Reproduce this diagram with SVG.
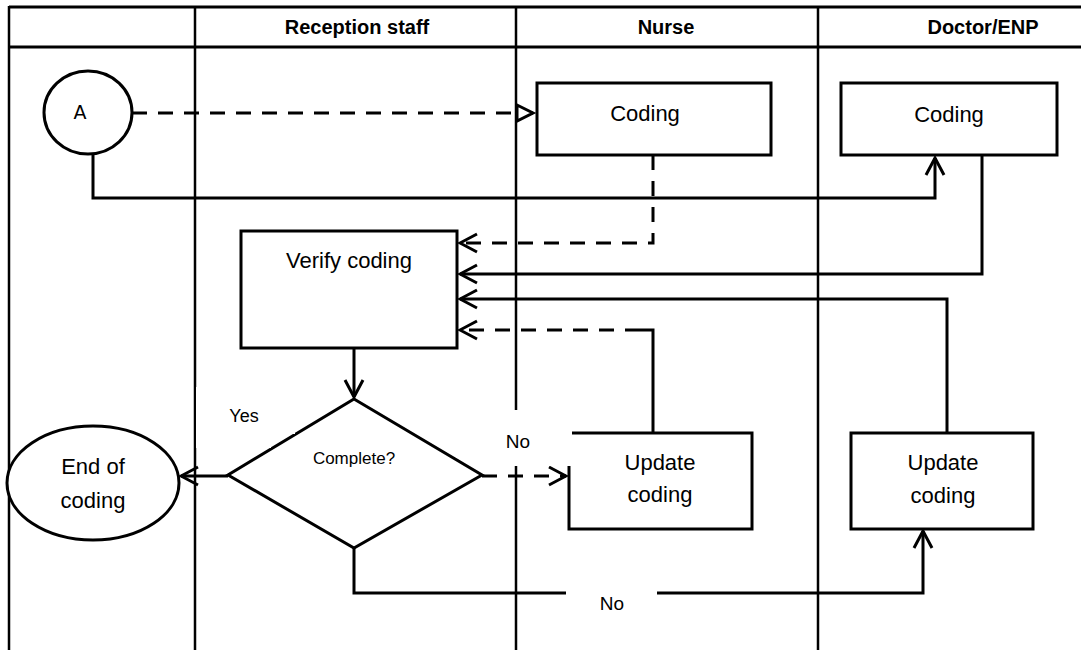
<svg xmlns="http://www.w3.org/2000/svg" width="1081" height="650" viewBox="0 0 1081 650">
<style>
.lane{stroke:#000;stroke-width:2.5;fill:none}
.hdr{font-family:"Liberation Sans",Arial,sans-serif;font-weight:bold;font-size:20px;fill:#000;text-anchor:middle}
.box{fill:#fff;stroke:#000;stroke-width:3}
.t{font-family:"Liberation Sans",Arial,sans-serif;font-size:22px;fill:#000;text-anchor:middle}
.s{font-family:"Liberation Sans",Arial,sans-serif;font-size:18px;fill:#000;text-anchor:middle}
.c{fill:none;stroke:#000;stroke-width:3}
.d{stroke-dasharray:15 11}
.lbl{fill:#fff;stroke:none}
</style>
<defs>
<marker id="ah" markerUnits="userSpaceOnUse" markerWidth="22" markerHeight="24" viewBox="-19 -12 22 24" refX="0" refY="0" orient="auto">
<path d="M-17,-9 L0,0 L-17,9" fill="none" stroke="#000" stroke-width="3"/>
</marker>
<marker id="tri" markerUnits="userSpaceOnUse" markerWidth="24" markerHeight="24" viewBox="-20 -12 24 24" refX="0" refY="0" orient="auto">
<path d="M-16,-8 L0,0 L-16,8 Z" fill="#fff" stroke="#000" stroke-width="3" stroke-linejoin="miter"/>
</marker>
</defs>
<g id="lanes">
<line class="lane" x1="9" y1="7" x2="1081" y2="7" style="stroke-width:3"/>
<line class="lane" x1="9" y1="47" x2="1081" y2="47" style="stroke-width:3"/>
<line class="lane" x1="9" y1="6" x2="9" y2="650"/>
<line class="lane" x1="195" y1="6" x2="195" y2="650"/>
<line class="lane" x1="516" y1="6" x2="516" y2="650"/>
<line class="lane" x1="818" y1="6" x2="818" y2="650"/>
<text class="hdr" x="357" y="34">Reception staff</text>
<text class="hdr" x="666" y="34">Nurse</text>
<text class="hdr" x="983" y="34">Doctor/ENP</text>
</g>
<g id="connectors">
<path class="c d" d="M132,113 H533" marker-end="url(#tri)"/>
<path class="c" d="M93,154 V198 H935 V158" marker-end="url(#ah)"/>
<path class="c d" d="M653,155 V243 H460" marker-end="url(#ah)"/>
<path class="c" d="M982,155 V274 H460" marker-end="url(#ah)"/>
<path class="c" d="M947,433 V299 H460" marker-end="url(#ah)"/>
<path class="c" d="M653,433 V330 H640"/>
<path class="c d" d="M640,330 H460" marker-end="url(#ah)"/>
<path class="c" d="M354,348 V397" marker-end="url(#ah)"/>
<path class="c" d="M228,476 H181" marker-end="url(#ah)"/>
<path class="c d" d="M482,476 H566" marker-end="url(#ah)"/>
<path class="c" d="M354,548 V593 H923 V531" marker-end="url(#ah)"/>
</g>
<g id="node-a">
<ellipse class="box" cx="88" cy="112.5" rx="44" ry="41.5"/>
<text x="80" y="119" style="font-family:'DejaVu Sans',sans-serif;font-size:19px;text-anchor:middle">A</text>
</g>
<g id="node-nurse-coding">
<rect class="box" x="537" y="83" width="234" height="72"/>
<text class="t" x="645" y="121">Coding</text>
</g>
<g id="node-doctor-coding">
<rect class="box" x="841" y="83" width="216" height="72"/>
<text class="t" x="949" y="122">Coding</text>
</g>
<g id="node-verify">
<rect class="box" x="241" y="231" width="216" height="117"/>
<text class="t" x="349" y="268">Verify coding</text>
</g>
<g id="node-complete">
<polygon class="box" points="354,399 482,475 354,548 228,475"/>
<text class="s" x="354" y="464" style="font-size:17px">Complete?</text>
</g>
<g id="node-end">
<ellipse class="box" cx="93" cy="483" rx="86" ry="57"/>
<text class="t" x="93" y="474">End of</text>
<text class="t" x="93" y="508">coding</text>
</g>
<g id="node-nurse-update">
<rect class="box" x="569" y="433" width="183" height="96"/>
<text class="t" x="660" y="470">Update</text>
<text class="t" x="660" y="502">coding</text>
</g>
<g id="node-doctor-update">
<rect class="box" x="851" y="433" width="182" height="96"/>
<text class="t" x="943" y="470">Update</text>
<text class="t" x="943" y="503">coding</text>
</g>
<g id="labels">
<rect class="lbl" x="196" y="387" width="99" height="47"/>
<rect class="lbl" x="196" y="387" width="75" height="61"/>
<text class="s" x="244" y="422">Yes</text>
<rect class="lbl" x="490" y="410" width="82" height="56"/>
<text class="s" x="518" y="448" style="font-size:19px">No</text>
<rect class="lbl" x="566" y="580" width="91" height="40"/>
<text class="s" x="612" y="610" style="font-size:19px">No</text>
</g>
</svg>
